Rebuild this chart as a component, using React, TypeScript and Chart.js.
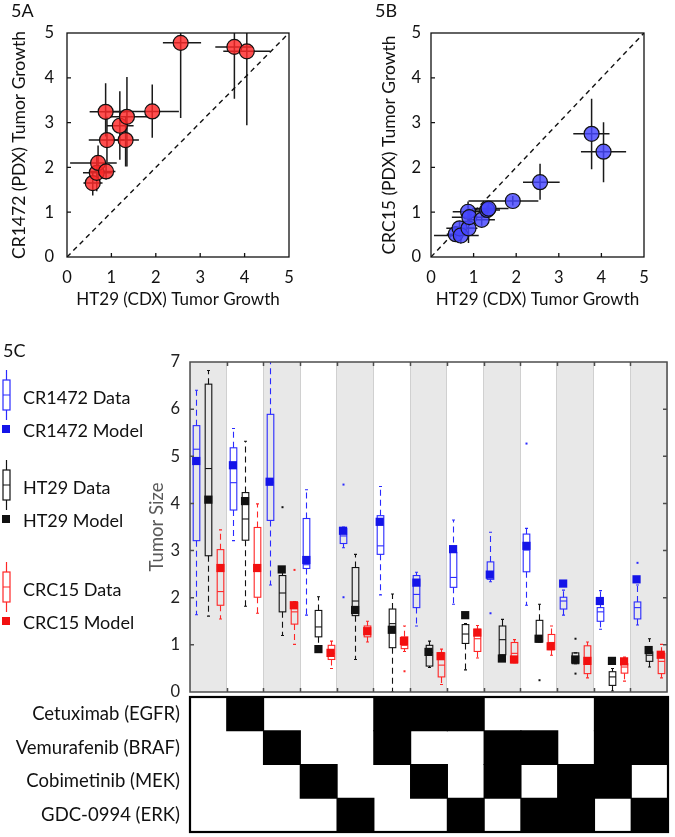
import React, { useEffect, useRef } from "react";
import { Chart, registerables } from "chart.js";
Chart.register(...registerables);

const FONT = "Lato, 'Open Sans', Arial, sans-serif";

// ---------- 5A / 5B data (tumor growth) ----------
const ht29Growth = [0.58, 0.67, 0.70, 0.87, 0.88, 0.90, 1.19, 1.32, 1.35, 1.92, 2.56, 3.77, 4.05];
const ht29Low = [0.37, 0.36, 0.07, 0.51, 0.52, 0.49, 0.90, 1.01, 0.97, 0.88, 2.16, 3.34, 3.52];
const ht29High = [0.80, 1.01, 1.12, 1.32, 1.09, 1.29, 1.50, 1.62, 1.82, 2.52, 3.02, 4.19, 4.58];

const cr1472Growth = [1.65, 1.88, 2.10, 3.24, 1.91, 2.61, 2.93, 2.61, 3.13, 3.25, 4.78, 4.69, 4.59];
const cr1472Low = [1.37, 1.47, 1.73, 2.69, 1.73, 2.11, 2.17, 2.02, 2.02, 2.66, 3.10, 3.53, 2.94];
const cr1472High = [1.88, 2.25, 2.49, 3.88, 2.10, 3.13, 3.70, 3.13, 4.02, 3.85, 5.60, 5.80, 6.20];

const crc15Growth = [0.51, 0.64, 0.48, 1.01, 0.64, 0.89, 0.83, 1.05, 1.08, 1.25, 1.67, 2.75, 2.35];
const crc15Low = [0.38, 0.45, 0.30, 0.80, 0.31, 0.70, 0.70, 0.95, 0.98, 1.15, 1.28, 1.96, 1.67];
const crc15High = [0.65, 0.80, 0.65, 1.24, 0.98, 1.08, 0.97, 1.15, 1.20, 1.36, 2.08, 3.53, 3.01];

const growthTicks = [0, 1, 2, 3, 4, 5];
const identityLine = [0, 5];

// ---------- 5C data (tumor size box plots) ----------
const treatments = ["Control", "EGFR", "BRAF", "MEK", "ERK", "EGFR+BRAF", "EGFR+MEK", "EGFR+ERK",
  "BRAF+MEK", "BRAF+ERK", "MEK+ERK", "EGFR+BRAF+MEK", "EGFR+BRAF+ERK"];
const sizeTicks = [0, 1, 2, 3, 4, 5, 6, 7];
const groupEdges = [0, 1, 2, 3, 4, 5, 6, 7, 8, 9, 10, 11, 12, 13];

// [whiskerLow, q1, median, q3, whiskerHigh]
const cr1472Box = [
  [1.64, 3.21, 5.15, 5.65, 6.40],
  [3.21, 3.86, 4.44, 5.18, 5.59],
  [2.27, 3.64, 4.45, 5.89, 7.30],
  [1.63, 2.62, 2.70, 3.68, 4.29],
  [3.06, 3.15, 3.31, 3.47, 3.50],
  [2.06, 2.92, 3.10, 3.74, 4.36],
  [1.40, 1.79, 2.07, 2.47, 2.54],
  [1.86, 2.22, 2.43, 2.96, 3.65],
  [2.34, 2.39, 2.54, 2.76, 3.39],
  [1.84, 2.55, 3.01, 3.35, 3.47],
  [1.63, 1.76, 1.93, 2.01, 2.16],
  [1.33, 1.50, 1.70, 1.79, 2.15],
  [1.42, 1.55, 1.79, 1.91, 2.27],
];
const cr1472Model = [4.90, 4.81, 4.46, 2.80, 3.42, 3.61, 2.32, 3.03, 2.49, 3.10, 2.30, 1.93, 2.39];
const cr1472Outliers = [[], [], [], [], [4.40, 2.01], [], [], [], [1.67], [5.27], [], [], [2.74]];

const ht29Box = [
  [1.61, 2.89, 4.74, 6.53, 6.82],
  [1.82, 3.22, 3.67, 4.23, 5.32],
  [1.20, 1.70, 2.10, 2.47, 2.55],
  [0.95, 1.17, 1.38, 1.73, 2.02],
  [0.69, 1.62, 1.93, 2.64, 2.92],
  [0.00, 0.94, 1.45, 1.76, 2.08],
  [0.52, 0.55, 0.84, 0.99, 1.08],
  [0.47, 1.03, 1.23, 1.43, 1.45],
  [0.71, 0.79, 1.11, 1.40, 1.54],
  [1.06, 1.06, 1.10, 1.52, 1.86],
  [0.60, 0.60, 0.70, 0.83, 0.83],
  [0.02, 0.14, 0.32, 0.43, 0.50],
  [0.53, 0.65, 0.78, 0.85, 1.13],
];
const ht29Model = [4.08, 4.05, 2.60, 0.91, 1.74, 1.32, 0.85, 1.63, 0.71, 1.13, 0.69, 0.66, 0.89];
const ht29Outliers = [[], [], [3.92], [], [], [], [], [], [], [0.25], [1.13, 0.39], [], []];

const crc15Box = [
  [1.55, 1.84, 2.13, 3.02, 3.44],
  [1.67, 2.01, 2.65, 3.49, 3.99],
  [1.01, 1.44, 1.70, 1.90, 1.92],
  [0.50, 0.69, 0.82, 0.99, 1.08],
  [1.06, 1.17, 1.24, 1.40, 1.50],
  [0.86, 0.92, 0.99, 1.17, 1.40],
  [0.16, 0.32, 0.57, 0.83, 0.91],
  [0.72, 0.86, 1.13, 1.33, 1.41],
  [0.62, 0.62, 0.82, 1.05, 1.11],
  [0.78, 0.90, 1.05, 1.22, 1.40],
  [0.30, 0.39, 0.64, 0.98, 1.06],
  [0.23, 0.40, 0.53, 0.60, 0.74],
  [0.30, 0.39, 0.65, 0.82, 1.01],
];
const crc15Model = [2.63, 2.63, 1.84, 0.83, 1.29, 1.08, 0.76, 1.26, 0.69, 0.97, 0.66, 0.65, 0.79];
const crc15Outliers = [[], [], [2.59], [], [], [0.44], [], [], [], [], [], [], []];

// ---------- drug matrix ----------
const drugs = ["Cetuximab (EGFR)", "Vemurafenib (BRAF)", "Cobimetinib (MEK)", "GDC-0994 (ERK)"];
const egfrOn = [0, 1, 0, 0, 0, 1, 1, 1, 0, 0, 0, 1, 1];
const brafOn = [0, 0, 1, 0, 0, 1, 0, 0, 1, 1, 0, 1, 1];
const mekOn = [0, 0, 0, 1, 0, 0, 1, 0, 1, 0, 1, 1, 0];
const erkOn = [0, 0, 0, 0, 1, 0, 0, 1, 0, 1, 1, 0, 1];

// ---------- styles ----------
const BLUE_LINE = "#2a2aff";
const BLUE_FILL = "#1414e8";
const BLACK_LINE = "#111111";
const BLACK_FILL = "#111111";
const RED_LINE = "#ff2626";
const RED_FILL = "#f21010";
const GRAY_BG = "#e8e8e8";

function tickList(arr: number[]) {
  return (s: any) => {
    s.ticks = arr.map((v) => ({ value: v }));
  };
}

function textPlugin(items: { text: string; x: number; y: number; size: number }[]) {
  return {
    id: "panelText",
    afterDraw(chart: any) {
      const ctx = chart.ctx;
      ctx.save();
      ctx.fillStyle = "#111";
      ctx.textBaseline = "middle";
      ctx.textAlign = "left";
      items.forEach((it) => {
        ctx.font = `${it.size}px ${FONT}`;
        ctx.fillText(it.text, it.x, it.y);
      });
      ctx.restore();
    },
  };
}

function scatterConfig(opts: {
  yVals: number[];
  yLow: number[];
  yHigh: number[];
  fill: string;
  yTitle: string;
  canvasH: number;
  yWidth: number;
  padRight: number;
  yTitlePad: number;
  yTickPad: number;
  label: string;
  labelX: number;
}) {
  const { yVals, yLow, yHigh, fill } = opts;
  const errorBars = {
    id: "errorBars",
    beforeDatasetsDraw(chart: any) {
      const { ctx, chartArea: ca, scales } = chart;
      const x = scales.x, y = scales.y;
      ctx.save();
      ctx.beginPath();
      ctx.rect(ca.left, ca.top, ca.right - ca.left, ca.bottom - ca.top);
      ctx.clip();
      ctx.strokeStyle = "#1a1a1a";
      ctx.lineWidth = 1.5;
      ht29Growth.forEach((xv, i) => {
        const px = x.getPixelForValue(xv);
        const py = y.getPixelForValue(yVals[i]);
        ctx.beginPath();
        ctx.moveTo(x.getPixelForValue(ht29Low[i]), py);
        ctx.lineTo(x.getPixelForValue(ht29High[i]), py);
        ctx.moveTo(px, y.getPixelForValue(yLow[i]));
        ctx.lineTo(px, y.getPixelForValue(yHigh[i]));
        ctx.stroke();
      });
      ctx.restore();
    },
  };
  const frame = {
    id: "frame",
    afterDraw(chart: any) {
      const { ctx, chartArea: ca, scales } = chart;
      ctx.save();
      ctx.strokeStyle = "#111";
      ctx.lineWidth = 1.3;
      ctx.strokeRect(ca.left, ca.top, ca.right - ca.left, ca.bottom - ca.top);
      ctx.beginPath();
      growthTicks.slice(1, -1).forEach((v) => {
        const px = scales.x.getPixelForValue(v);
        ctx.moveTo(px, ca.bottom);
        ctx.lineTo(px, ca.bottom - 4);
        const py = scales.y.getPixelForValue(v);
        ctx.moveTo(ca.left, py);
        ctx.lineTo(ca.left + 4, py);
      });
      ctx.stroke();
      ctx.restore();
    },
  };
  return {
    type: "scatter",
    data: {
      datasets: [
        {
          type: "scatter",
          data: ht29Growth.map((x, i) => ({ x, y: yVals[i] })),
          backgroundColor: fill,
          borderColor: "#111",
          borderWidth: 1.2,
          pointRadius: 7.5,
          pointHoverRadius: 7.5,
        },
        {
          type: "line",
          data: identityLine.map((v) => ({ x: v, y: v })),
          borderColor: "#111",
          borderWidth: 1.4,
          borderDash: [5, 4],
          pointRadius: 0,
          fill: false,
        },
      ],
    },
    options: {
      animation: false,
      responsive: false,
      events: [],
      layout: { padding: { top: 33, right: opts.padRight, left: 0, bottom: 0 } },
      plugins: { legend: { display: false }, tooltip: { enabled: false } },
      scales: {
        x: {
          type: "linear",
          min: 0,
          max: 5,
          afterBuildTicks: tickList(growthTicks),
          afterFit: (s: any) => {
            s.height = opts.canvasH - 257;
          },
          grid: { display: false, drawTicks: false },
          border: { display: false },
          ticks: { font: { family: FONT, size: 16.5 }, color: "#111", padding: 11, maxRotation: 0 },
          title: {
            display: true,
            text: "HT29 (CDX) Tumor Growth",
            font: { family: FONT, size: 17 },
            color: "#111",
            padding: { top: 0, bottom: 5 },
          },
        },
        y: {
          type: "linear",
          min: 0,
          max: 5,
          afterBuildTicks: tickList(growthTicks),
          afterFit: (s: any) => {
            s.width = opts.yWidth;
          },
          grid: { display: false, drawTicks: false },
          border: { display: false },
          ticks: { font: { family: FONT, size: 16.5 }, color: "#111", padding: opts.yTickPad },
          title: {
            display: true,
            text: opts.yTitle,
            font: { family: FONT, size: 17.5 },
            color: "#111",
            padding: { top: opts.yTitlePad, bottom: 0 },
          },
        },
      },
    },
    plugins: [errorBars, frame, textPlugin([{ text: opts.label, x: opts.labelX, y: 11, size: 18 }])],
  };
}

const boxSeries = [
  { name: "CR1472", box: cr1472Box, model: cr1472Model, out: cr1472Outliers, line: BLUE_LINE, fill: BLUE_FILL, offset: -0.33 },
  { name: "HT29", box: ht29Box, model: ht29Model, out: ht29Outliers, line: BLACK_LINE, fill: BLACK_FILL, offset: 0 },
  { name: "CRC15", box: crc15Box, model: crc15Model, out: crc15Outliers, line: RED_LINE, fill: RED_FILL, offset: 0.33 },
];

function boxConfig() {
  const TOP = 320;
  const background = {
    id: "colBg",
    beforeDraw(chart: any) {
      const { ctx, chartArea: ca, scales } = chart;
      ctx.save();
      ctx.fillStyle = GRAY_BG;
      treatments.forEach((_, g) => {
        if (g % 2 === 0) {
          const l = scales.x.getPixelForValue(groupEdges[g]);
          const r = scales.x.getPixelForValue(groupEdges[g + 1]);
          ctx.fillRect(l, ca.top, r - l, ca.bottom - ca.top);
        }
      });
      ctx.restore();
    },
  };
  const boxes = {
    id: "boxes",
    beforeDatasetsDraw(chart: any) {
      const { ctx, chartArea: ca, scales } = chart;
      const x = scales.x, y = scales.y;
      ctx.save();
      ctx.beginPath();
      ctx.rect(ca.left, ca.top, ca.right - ca.left, ca.bottom - ca.top);
      ctx.clip();
      const half = (x.getPixelForValue(0.09) - x.getPixelForValue(0));
      boxSeries.forEach((s) => {
        ctx.strokeStyle = s.line;
        ctx.fillStyle = s.line;
        ctx.lineWidth = 1.1;
        s.box.forEach((b, g) => {
          const [lo, q1, med, q3, hi] = b;
          const cx = Math.round(x.getPixelForValue(g + 0.5 + s.offset)) + 0.5;
          const yLo = y.getPixelForValue(lo), y1 = y.getPixelForValue(q1), yM = y.getPixelForValue(med);
          const y3 = y.getPixelForValue(q3), yHi = y.getPixelForValue(hi);
          ctx.setLineDash([6, 4]);
          ctx.beginPath();
          ctx.moveTo(cx, y3);
          ctx.lineTo(cx, yHi);
          ctx.moveTo(cx, y1);
          ctx.lineTo(cx, yLo);
          ctx.stroke();
          ctx.setLineDash([]);
          ctx.beginPath();
          ctx.moveTo(cx - 1.5, yHi);
          ctx.lineTo(cx + 1.5, yHi);
          ctx.moveTo(cx - 1.5, yLo);
          ctx.lineTo(cx + 1.5, yLo);
          ctx.stroke();
          ctx.strokeRect(cx - half, y3, half * 2, y1 - y3);
          ctx.beginPath();
          ctx.moveTo(cx - half, yM);
          ctx.lineTo(cx + half, yM);
          ctx.stroke();
          s.out[g].forEach((o) => {
            const oy = y.getPixelForValue(o);
            ctx.fillRect(cx - 1, oy - 1, 2, 2);
          });
        });
      });
      ctx.restore();
    },
  };
  const frame = {
    id: "frame",
    afterDraw(chart: any) {
      const { ctx, chartArea: ca, scales } = chart;
      ctx.save();
      ctx.strokeStyle = "#4d4d4d";
      ctx.lineWidth = 1.5;
      ctx.strokeRect(ca.left, ca.top, ca.right - ca.left, ca.bottom - ca.top);
      ctx.beginPath();
      groupEdges.slice(1, -1).forEach((v) => {
        const px = Math.round(scales.x.getPixelForValue(v)) + 0.5;
        ctx.moveTo(px, ca.top);
        ctx.lineTo(px, ca.top + 4);
        ctx.moveTo(px, ca.bottom);
        ctx.lineTo(px, ca.bottom - 4);
      });
      sizeTicks.slice(1, -1).forEach((v) => {
        const py = scales.y.getPixelForValue(v);
        ctx.moveTo(ca.left, py);
        ctx.lineTo(ca.left + 4, py);
        ctx.moveTo(ca.right, py);
        ctx.lineTo(ca.right - 4, py);
      });
      ctx.stroke();
      ctx.restore();
    },
  };
  const legendTops = [370, 460, 562];
  const legend = {
    id: "boxLegend",
    afterDraw(chart: any) {
      const ctx = chart.ctx;
      ctx.save();
      ctx.font = `18px ${FONT}`;
      ctx.fillStyle = "#111";
      ctx.textBaseline = "middle";
      ctx.fillText("5C", 3, 351 - TOP);
      boxSeries.forEach((s, i) => {
        const y0 = legendTops[i] - TOP;
        ctx.strokeStyle = s.line;
        ctx.lineWidth = 1.2;
        ctx.beginPath();
        ctx.moveTo(6.5, y0);
        ctx.lineTo(6.5, y0 + 10);
        ctx.moveTo(6.5, y0 + 40);
        ctx.lineTo(6.5, y0 + 50);
        ctx.moveTo(3, y0 + 25);
        ctx.lineTo(10, y0 + 25);
        ctx.stroke();
        ctx.strokeRect(3, y0 + 10, 7, 30);
        ctx.fillStyle = s.fill;
        ctx.fillRect(2, y0 + 55, 8, 8);
        ctx.fillStyle = "#111";
        ctx.fillText(`${s.name} Data`, 23, y0 + 28);
        ctx.fillText(`${s.name} Model`, 23, y0 + 61);
      });
      ctx.restore();
    },
  };
  return {
    type: "scatter",
    data: {
      datasets: boxSeries.map((s) => ({
        label: `${s.name} Model`,
        data: s.model.map((v, g) => ({ x: g + 0.5 + s.offset, y: v })),
        pointStyle: "rect",
        pointRadius: 5.8,
        pointHoverRadius: 5.8,
        backgroundColor: s.fill,
        borderColor: s.fill,
        borderWidth: 0,
      })),
    },
    options: {
      animation: false,
      responsive: false,
      events: [],
      layout: { padding: { top: 42, right: 8, left: 130, bottom: 0 } },
      plugins: { legend: { display: false }, tooltip: { enabled: false } },
      scales: {
        x: {
          type: "linear",
          min: 0,
          max: 13,
          afterBuildTicks: tickList(groupEdges),
          afterFit: (s: any) => {
            s.height = 720 - 692;
          },
          grid: { display: true, color: "#d0d0d0", lineWidth: 1, drawTicks: false },
          border: { display: false },
          ticks: { display: false },
        },
        y: {
          type: "linear",
          min: 0,
          max: 7,
          afterBuildTicks: tickList(sizeTicks),
          afterFit: (s: any) => {
            s.width = 60;
          },
          grid: { display: false, drawTicks: false },
          border: { display: false },
          ticks: { font: { family: FONT, size: 16.5 }, color: "#222", padding: 10 },
          title: {
            display: true,
            text: "Tumor Size",
            font: { family: FONT, size: 18.5 },
            color: "#5a5a5a",
            padding: { top: 16, bottom: 0 },
          },
        },
      },
    },
    plugins: [background, boxes, frame, legend],
  };
}

function matrixConfig() {
  const rows = [egfrOn, brafOn, mekOn, erkOn];
  const cells: any[] = [];
  rows.forEach((row, r) => {
    row.forEach((on, g) => {
      if (on) cells.push({ x: [groupEdges[g], groupEdges[g + 1]], y: drugs[r] });
    });
  });
  const frame = {
    id: "mframe",
    afterDraw(chart: any) {
      const { ctx, chartArea: ca } = chart;
      ctx.save();
      ctx.strokeStyle = "#000";
      ctx.lineWidth = 2.2;
      ctx.strokeRect(ca.left, ca.top, ca.right - ca.left, ca.bottom - ca.top);
      ctx.restore();
    },
  };
  return {
    type: "bar",
    data: {
      labels: drugs,
      datasets: [
        {
          data: cells,
          backgroundColor: "#000",
          borderWidth: 0,
          barPercentage: 1,
          categoryPercentage: 1,
          inflateAmount: 0.6,
        },
      ],
    },
    options: {
      animation: false,
      responsive: false,
      events: [],
      indexAxis: "y",
      layout: { padding: { top: 7, right: 7, left: 0, bottom: 5 } },
      plugins: { legend: { display: false }, tooltip: { enabled: false } },
      scales: {
        x: { type: "linear", min: 0, max: 13, display: false },
        y: {
          type: "category",
          afterFit: (s: any) => {
            s.width = 190;
            s.paddingTop = 0;
            s.paddingBottom = 0;
          },
          grid: { display: false, drawTicks: false },
          border: { display: false },
          ticks: { font: { family: FONT, size: 18.5 }, color: "#111", padding: 10 },
        },
      },
    },
    plugins: [frame],
  };
}

function ChartCanvas(props: { left: number; top: number; width: number; height: number; make: () => any }) {
  const ref = useRef<HTMLCanvasElement>(null);
  useEffect(() => {
    const chart = new Chart(ref.current as HTMLCanvasElement, props.make());
    return () => chart.destroy();
  }, []);
  return (
    <canvas
      ref={ref}
      width={props.width}
      height={props.height}
      style={{ position: "absolute", left: props.left, top: props.top, width: props.width, height: props.height }}
    />
  );
}

export default function App() {
  return (
    <div style={{ position: "absolute", left: 0, top: 0, width: 675, height: 837, background: "#fff", overflow: "hidden" }}>
      <ChartCanvas
        left={0}
        top={0}
        width={330}
        height={315}
        make={() =>
          scatterConfig({
            yVals: cr1472Growth, yLow: cr1472Low, yHigh: cr1472High,
            fill: "rgba(255, 40, 40, 0.82)", yTitle: "CR1472 (PDX) Tumor Growth",
            canvasH: 315, yWidth: 67, padRight: 330 - 289, yTitlePad: 9, yTickPad: 13,
            label: "5A", labelX: 11,
          })
        }
      />
      <ChartCanvas
        left={355}
        top={0}
        width={320}
        height={315}
        make={() =>
          scatterConfig({
            yVals: crc15Growth, yLow: crc15Low, yHigh: crc15High,
            fill: "rgba(70, 70, 255, 0.82)", yTitle: "CRC15 (PDX) Tumor Growth",
            canvasH: 315, yWidth: 76, padRight: 675 - 644, yTitlePad: 24, yTickPad: 10,
            label: "5B", labelX: 20,
          })
        }
      />
      <ChartCanvas left={0} top={320} width={675} height={400} make={boxConfig} />
      <ChartCanvas left={0} top={690} width={675} height={147} make={matrixConfig} />
    </div>
  );
}
